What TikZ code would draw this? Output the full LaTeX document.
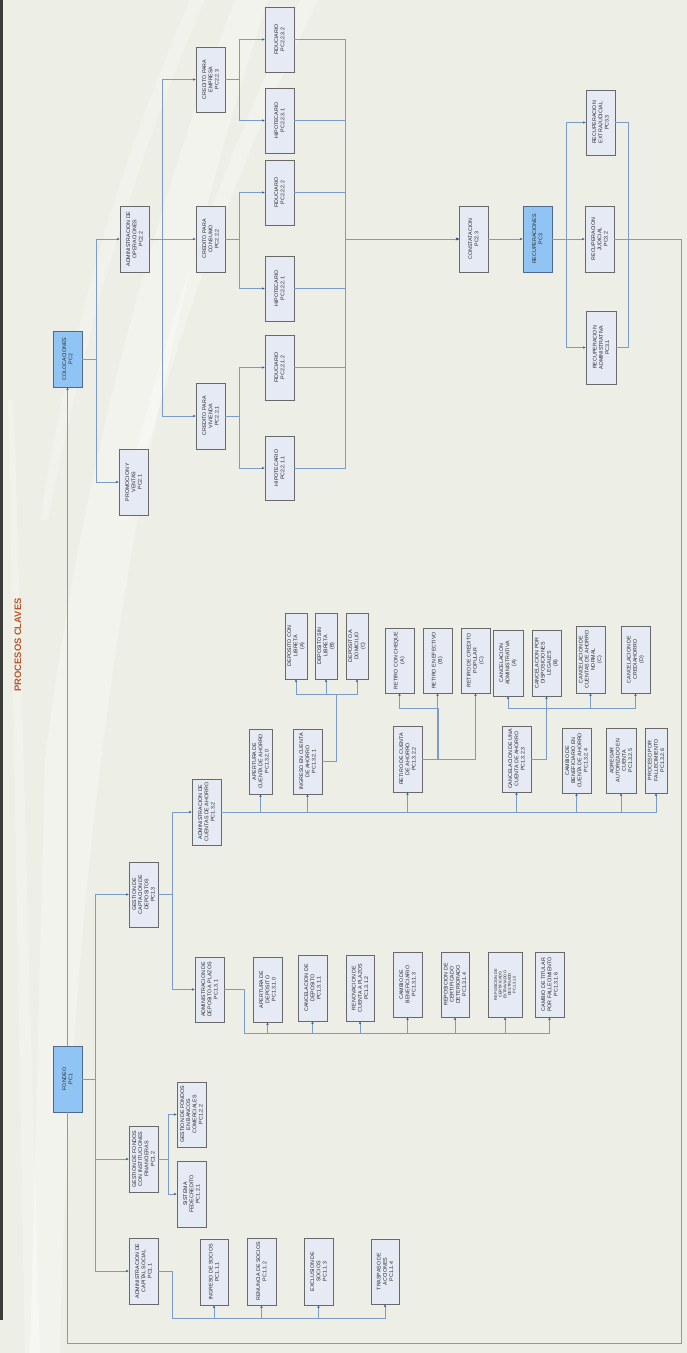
\documentclass[tikz,border=0pt]{standalone}
\usepackage{fontspec}
\setmainfont{Liberation Sans}
\usetikzlibrary{arrows.meta}
\definecolor{bg}{RGB}{237,238,229}
\definecolor{strip}{RGB}{60,60,58}
\definecolor{boxfill}{RGB}{229,234,245}
\definecolor{boxline}{RGB}{105,105,105}
\definecolor{keyfill}{RGB}{143,196,244}
\definecolor{keyline}{RGB}{80,104,140}
\definecolor{connc}{RGB}{122,156,200}
\definecolor{tipc}{RGB}{50,80,140}
\definecolor{titlec}{RGB}{186,86,38}
\tikzset{
  box/.style={draw=boxline, fill=boxfill, line width=0.9pt, inner sep=0pt,
    align=center, font=\fontsize{5.3}{6.2}\selectfont, text=black!85},
  keybox/.style={box, fill=keyfill, draw=keyline},
  tinybox/.style={box, font=\fontsize{3.9}{4.6}\selectfont},
  conn/.style={draw=connc, line width=0.8pt},
  arr/.style={conn, -{Stealth[length=2.6pt,width=2.4pt,color=tipc]}},
}
% \bx[style]{name}{x1}{y1}{x2}{y2}{text}: upright box given by its corners, text rotated
\newcommand\bx[7][box]{\node[#1, minimum width={(#6-#4)*1pt}, minimum height={(#5-#3)*1pt}, rotate=90] (#2) at ({(#3+#5)/2},{(#4+#6)/2}) {#7};}
\begin{document}
\begin{tikzpicture}[x=1pt,y=-1pt]
\useasboundingbox (0,0) rectangle (687,1353);
% background
\fill[bg] (0,0) rectangle (687,1353);
\fill[white,opacity=0.35] (235,0) .. controls (150,220) and (80,480) .. (45,760) -- (30,1353) -- (60,1353) .. controls (70,900) and (120,450) .. (268,0) -- cycle;
\fill[white,opacity=0.3] (300,0) .. controls (230,150) and (170,300) .. (120,520) -- (128,520) .. controls (185,300) and (250,140) .. (318,0) -- cycle;
\fill[white,opacity=0.25] (190,0) .. controls (120,160) and (70,330) .. (40,520) -- (48,520) .. controls (85,330) and (135,160) .. (205,0) -- cycle;
\fill[white,opacity=0.25] (8,400) .. controls (15,800) and (20,1100) .. (25,1353) -- (40,1353) .. controls (30,1000) and (22,700) .. (14,400) -- cycle;
\fill[strip] (0,0) rectangle (3,1320);
% title
\node[rotate=90, font=\bfseries\fontsize{9.4}{10}\selectfont, text=titlec] (title) at (18,645) {PROCESOS CLAVES};

% bus coordinates
\coordinate (b96) at (96,0);
\coordinate (b162) at (162,0);
\coordinate (b239) at (239,0);
\coordinate (b345) at (345,0);
\coordinate (b566) at (566,0);
\coordinate (b628) at (628,0);
\coordinate (loopR) at (681,1343);
\coordinate (b95) at (95,0);
\coordinate (b168) at (168,0);
\coordinate (b172) at (172,0);
\coordinate (bus11) at (172,1318);
\coordinate (bus131) at (244,1033);
\coordinate (bdep) at (336,694);
\coordinate (bret) at (438,708);
\coordinate (bcan) at (546,708);

% ---------------- PC2 / PC3 ----------------
\bx[keybox]{colo}{53}{331}{82}{387}{COLOCACIONES\\PC2}
\bx{promo}{119}{449}{148}{515}{PROMOCION Y\\VENTAS\\PC2.1}
\bx{adminop}{120}{206}{149}{272}{ADMINISTRACION DE\\OPERACIONES\\PC2.2}
\bx{cpe}{196}{47}{225}{112}{CREDITO PARA\\EMPRESA\\PC2.2.3}
\bx{cpc}{196}{206}{225}{272}{CREDITO PARA\\CONSUMO\\PC2.2.2}
\bx{cpv}{196}{383}{225}{449}{CREDITO PARA\\VIVIENDA\\PC2.2.1}
\bx{f232}{265}{7}{294}{72}{FIDUCIARIO\\PC2.2.3.2}
\bx{h231}{265}{88}{294}{153}{HIPOTECARIO\\PC2.2.3.1}
\bx{f222}{265}{160}{294}{225}{FIDUCIARIO\\PC2.2.2.2}
\bx{h221}{265}{256}{294}{321}{HIPOTECARIO\\PC2.2.2.1}
\bx{f212}{265}{335}{294}{400}{FIDUCIARIO\\PC2.2.1.2}
\bx{h211}{265}{436}{294}{500}{HIPOTECARIO\\PC2.2.1.1}
\bx{const}{459}{206}{488}{272}{CONSTATACION\\PC2.3}
\bx[keybox]{recup}{523}{206}{552}{272}{RECUPERACIONES\\PC3}
\bx{r33}{586}{90}{615}{155}{RECUPERACION\\EXTRAJUDICIAL\\PC3.3}
\bx{r32}{585}{206}{614}{272}{RECUPERACION\\JUDICIAL\\PC3.2}
\bx{r31}{586}{311}{616}{384}{RECUPERACION\\ADMINISTRATIVA\\PC3.1}

\draw[arr] (colo.south) -| (adminop.north -| b96) -- (adminop.north);
\draw[arr] (colo.south) -| (promo.north -| b96) -- (promo.north);
\draw[arr] (adminop.south) -- (cpc.north);
\draw[arr] (adminop.south) -| (cpe.north -| b162) -- (cpe.north);
\draw[arr] (adminop.south) -| (cpv.north -| b162) -- (cpv.north);
\foreach \p/\a/\b in {cpe/f232/h231, cpc/f222/h221, cpv/f212/h211}{
  \draw[arr] (\p.south) -| (\a.north -| b239) -- (\a.north);
  \draw[arr] (\p.south) -| (\b.north -| b239) -- (\b.north);
}
\foreach \l in {f232,h231,f222,h221,f212,h211}{
  \draw[arr] (\l.south) -| (const.north -| b345) -- (const.north);
}
\draw[arr] (const.south) -- (recup.north);
\draw[arr] (recup.south) -- (r32.north);
\draw[arr] (recup.south) -| (r33.north -| b566) -- (r33.north);
\draw[arr] (recup.south) -| (r31.north -| b566) -- (r31.north);
\draw[conn] (r31.south) -| (r32.south -| b628);
\draw[conn] (r33.south) -| (r32.south -| b628);

% ---------------- PC1 ----------------
\bx[keybox]{fondeo}{53}{1046}{82}{1112}{FONDEO\\PC1}
\bx{pc13}{129}{862}{158}{927}{GESTION DE\\CAPTACION DE\\DEPOSITOS\\PC1.3}
\bx{pc12}{129}{1126}{158}{1192}{GESTION DE FONDOS\\CON INSTITUCIONES\\FINANCIERAS\\PC1.2}
\bx{pc11}{129}{1238}{158}{1304}{ADMINISTRACION DE\\CAPITAL SOCIAL\\PC1.1}
\bx{pc122}{177}{1082}{206}{1147}{GESTION DE FONDOS\\EN BANCOS\\COMERCIALES\\PC1.2.2}
\bx{pc121}{177}{1161}{206}{1227}{SISTEMA\\FEDECREDITO\\PC1.2.1}
\bx{pc111}{200}{1239}{228}{1305}{INGRESO DE SOCIOS\\PC1.1.1}
\bx{pc112}{247}{1238}{276}{1305}{RENUNCIA DE SOCIOS\\PC1.1.2}
\bx{pc113}{304}{1238}{333}{1305}{EXCLUSION DE\\SOCIOS\\PC1.1.3}
\bx{pc114}{371}{1239}{399}{1304}{TRASPASO DE\\ACCIONES\\PC1.1.4}
\bx{pc132}{192}{779}{221}{845}{ADMINISTRACION DE\\CUENTAS DE AHORRO\\PC1.3.2}
\bx{pc131}{195}{957}{224}{1022}{ADMINISTRACION DE\\DEPOSITO A PLAZOS\\PC1.3.1}
\bx{pc1310}{253}{957}{282}{1022}{APERTURA DE\\DEPOSITO\\PC1.3.1.0}
\bx{pc1311}{298}{955}{327}{1021}{CANCELACION DE\\DEPOSITO\\PC1.3.1.1}
\bx{pc1312}{346}{955}{374}{1021}{RENOVACION DE\\CUENTA A PLAZOS\\PC1.3.1.2}
\bx{pc1313}{393}{952}{422}{1017}{CAMBIO DE\\BENEFICIARIO\\PC1.3.1.3}
\bx{pc1314}{441}{952}{469}{1017}{REPOSICION DE\\CERTIFICADO\\DETERIORADO\\PC1.3.1.4}
\bx[tinybox]{pc1315}{488}{952}{522}{1017}{REPOSICION DE\\CERTIFICADO\\EXTRAVIADO O\\DESTRUIDO\\PC1.3.1.5}
\bx{pc1316}{535}{952}{564}{1017}{CAMBIO DE TITULAR\\POR FALLECIMIENTO\\PC1.3.1.6}
\bx{pc1320}{249}{729}{272}{794}{APERTURA DE\\CUENTA DE AHORRO\\PC1.3.2.0}
\bx{pc1321}{293}{729}{322}{794}{INGRESO EN CUENTA\\DE AHORRO\\PC1.3.2.1}
\bx{pc1322}{393}{726}{422}{792}{RETIRO DE CUENTA\\DE AHORRO\\PC1.3.2.2}
\bx{pc1323}{502}{726}{531}{792}{CANCELACION DE UNA\\CUENTA DE AHORRO\\PC1.3.2.3}
\bx{pc1324}{562}{728}{591}{793}{CAMBIO DE\\BENEFICIARIO EN\\CUENTA DE AHORRO\\PC1.3.2.4}
\bx{pc1325}{606}{728}{636}{793}{AGREGAR\\AUTORIZADO EN\\CUENTA\\PC1.3.2.5}
\bx{pc1326}{645}{728}{667}{793}{PROCESO POR\\FALLECIMIENTO\\PC1.3.2.6}
\bx{da}{285}{613}{307}{679}{DEPOSITO CON\\LIBRETA\\(A)}
\bx{db}{315}{613}{337}{679}{DEPOSITO SIN\\LIBRETA\\(B)}
\bx{dc}{346}{613}{368}{679}{DEPOSITO A\\DOMICILIO\\(C)}
\bx{ra}{385}{628}{414}{693}{RETIRO CON CHEQUE\\(A)}
\bx{rb}{423}{628}{452}{693}{RETIRO EN EFECTIVO\\(B)}
\bx{rc}{461}{628}{490}{693}{RETIRO DE CREDITO\\POPULAR\\(C)}
\bx{ca}{493}{630}{523}{696}{CANCELACION\\ADMINISTRATIVA\\(A)}
\bx{cb}{532}{630}{561}{696}{CANCELACION POR\\DISPOSICIONES\\LEGALES\\(B)}
\bx{cc}{576}{626}{605}{693}{CANCELACION DE\\CUENTAS DE AHORRO\\NORMAL\\(C)}
\bx{cd}{621}{626}{650}{693}{CANCELACION DE\\CREDIAHORRO\\(D)}

\foreach \c in {pc13,pc12,pc11}{
  \draw[arr] (fondeo.south) -| (\c.north -| b95) -- (\c.north);
}
\foreach \c in {pc122,pc121}{
  \draw[arr] (pc12.south) -| (\c.north -| b168) -- (\c.north);
}
\foreach \c in {pc132,pc131}{
  \draw[arr] (pc13.south) -| (\c.north -| b172) -- (\c.north);
}
\foreach \c in {pc111,pc112,pc113,pc114}{
  \draw[arr] (pc11.south) -| (bus11) -| (\c.west);
}
\foreach \c in {pc1310,pc1311,pc1312,pc1313,pc1314,pc1315,pc1316}{
  \draw[arr] (pc131.south) -| (bus131) -| (\c.west);
}
\foreach \c in {pc1320,pc1321,pc1322,pc1323,pc1324,pc1325,pc1326}{
  \draw[arr] (pc132.south) -| (\c.west);
}
\foreach \c in {da,db,dc}{
  \draw[arr] (pc1321.south) -| (bdep) -| (\c.west);
}
\draw[arr] (pc1322.south) -| (bret) -| (ra.west);
\draw[arr] (pc1322.south) -| (rb.west);
\draw[arr] (pc1322.south) -| (rc.west);
\foreach \c in {ca,cb,cc,cd}{
  \draw[arr] (pc1323.south) -| (bcan) -| (\c.west);
}

% return loop and link between the two key processes
\draw[conn] (r32.south) -| (loopR) -| (fondeo.west);
\draw[arr] (fondeo.east) -- (colo.west);
\end{tikzpicture}
\end{document}
